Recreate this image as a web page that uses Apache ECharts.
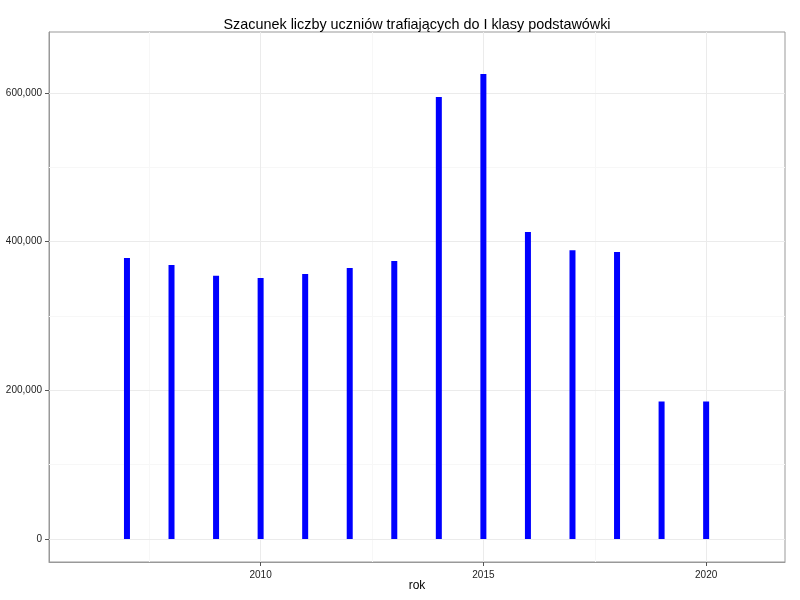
<!DOCTYPE html>
<html>
<head>
<meta charset="utf-8">
<script src="https://cdn.jsdelivr.net/npm/echarts@6/dist/echarts.min.js"></script>
<style>html,body{margin:0;padding:0;background:#fff}#c{width:800px;height:600px}</style>
</head>
<body>
<div id="c"></div>
<script>
const years = [2007, 2008, 2009, 2010, 2011, 2012, 2013, 2014, 2015, 2016, 2017, 2018, 2019, 2020];
const pupils = [378000, 368500, 354000, 351000, 356500, 364500, 374000, 594500, 625500, 413000, 388500, 386000, 185000, 185000];
const xTicks = [2010, 2015, 2020];
const xMinor = [2007.5, 2012.5, 2017.5];
const yTicks = [0, 200000, 400000, 600000];
const yMinor = [100000, 300000, 500000];

const chart = echarts.init(document.getElementById('c'));
const fmt = v => String(Math.round(v)).replace(/\B(?=(\d{3})+(?!\d))/g, ',');
const font = 'Liberation Sans, Arial, Helvetica, sans-serif';

const gridLines = [];
xMinor.forEach(v => gridLines.push({xAxis: v, lineStyle: {color: '#f7f7f7', width: 1, type: 'solid'}}));
yMinor.forEach(v => gridLines.push({yAxis: v, lineStyle: {color: '#f7f7f7', width: 1, type: 'solid'}}));
xTicks.forEach(v => gridLines.push({xAxis: v, lineStyle: {color: '#ebebeb', width: 1, type: 'solid'}}));
yTicks.forEach(v => gridLines.push({yAxis: v, lineStyle: {color: '#ebebeb', width: 1, type: 'solid'}}));

chart.setOption({
  backgroundColor: '#fff',
  animation: false,
  title: {
    text: 'Szacunek liczby uczniów trafiających do I klasy podstawówki',
    left: 412, textAlign: 'center', top: 13,
    textStyle: {fontFamily: font, fontSize: 14.4, fontWeight: 'normal', color: '#000'}
  },
  grid: {left: 49, right: 15, top: 32, bottom: 38, outerBoundsMode: 'none', containLabel: false, show: true, borderColor: '#999', borderWidth: 1, backgroundColor: '#fff'},
  xAxis: {
    type: 'value', min: 2005.25, max: 2021.77,
    name: 'rok', nameLocation: 'middle', nameGap: 18, nameMoveOverlap: false,
    nameTextStyle: {fontFamily: font, fontSize: 12, color: '#000', verticalAlign: 'top'},
    axisLine: {show: true, onZero: false, lineStyle: {color: '#999'}},
    axisTick: {show: true, inside: false, length: 4, lineStyle: {color: '#555', width: 1}, customValues: xTicks},
    axisLabel: {customValues: xTicks, fontFamily: font, fontSize: 10, color: '#222', margin: 8, formatter: v => String(v)},
    splitLine: {show: false}
  },
  yAxis: {
    type: 'value', min: -30942, max: 682063,
    axisLine: {show: true, onZero: false, lineStyle: {color: '#999'}},
    axisTick: {show: true, inside: false, length: 4, lineStyle: {color: '#555', width: 1}, customValues: yTicks},
    axisLabel: {customValues: yTicks, fontFamily: font, fontSize: 10, color: '#222', margin: 7, formatter: fmt},
    splitLine: {show: false}
  },
  series: [
    {
      type: 'line', data: [], z: 1, silent: true,
      markLine: {silent: true, symbol: 'none', label: {show: false}, z: 1, animation: false, data: gridLines}
    },
    {
      type: 'bar', z: 3, barWidth: 6,
      itemStyle: {color: '#0000ff'},
      data: years.map((y, i) => [y, pupils[i]])
    }
  ]
});
</script>
</body>
</html>
